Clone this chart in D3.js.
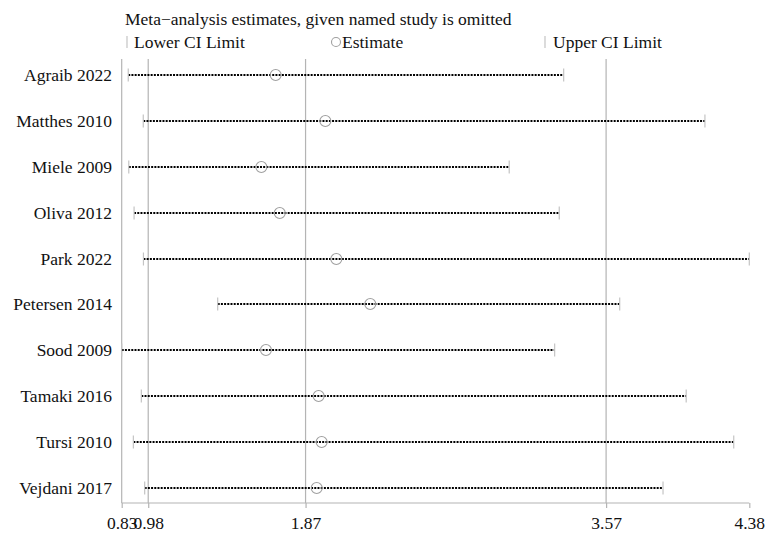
<!DOCTYPE html>
<html>
<head>
<meta charset="utf-8">
<script src="https://cdn.jsdelivr.net/npm/d3@7"></script>
<style>
  body { margin: 0; background: #fff; }
  svg text { font-family: "Liberation Serif", "Times New Roman", serif !important; }
</style>
</head>
<body>
<svg id="chart"></svg>
<script>
var studies = ['Agraib 2022', 'Matthes 2010', 'Miele 2009', 'Oliva 2012', 'Park 2022',
  'Petersen 2014', 'Sood 2009', 'Tamaki 2016', 'Tursi 2010', 'Vejdani 2017'];
var lowerCI = [0.867, 0.952, 0.870, 0.900, 0.953, 1.373, 0.830, 0.941, 0.896, 0.960];
var estimates = [1.701, 1.982, 1.620, 1.724, 2.044, 2.236, 1.646, 1.944, 1.961, 1.933];
var upperCI = [3.330, 4.129, 3.022, 3.305, 4.380, 3.647, 3.279, 4.023, 4.292, 3.892];
var tickValues = [0.83, 0.98, 1.87, 3.57, 4.38];
var refLines = [0.98, 1.87, 3.57];

var config = {
  svgWidth: 783,
  svgHeight: 533,
  left: 121.7,
  right: 749.3,
  top: 59,
  firstRow: 75,
  lastRow: 488,
  axisY: 503,
  fontSize: 17.5,
  fontFamily: '"Liberation Serif", "Times New Roman", serif'
};

var svg = d3.select('#chart')
  .attr('width', config.svgWidth)
  .attr('height', config.svgHeight)
  .attr('font-family', config.fontFamily);

var x = d3.scaleLinear()
  .domain([0.83, 4.38])
  .range([config.left, config.right]);

var yPoint = d3.scalePoint()
  .domain(studies)
  .range([config.firstRow, config.lastRow]);
function y(d) { return Math.round(yPoint(d)); }

// reference lines (overall estimate and CI)
svg.selectAll('.ref')
  .data(refLines)
  .enter().append('line')
  .attr('x1', function(d) { return x(d); })
  .attr('x2', function(d) { return x(d); })
  .attr('y1', config.top)
  .attr('y2', config.axisY)
  .attr('stroke', '#b4b4b4')
  .attr('stroke-width', 1.2);

// left axis line
svg.append('line')
  .attr('x1', config.left).attr('x2', config.left)
  .attr('y1', config.top).attr('y2', config.axisY)
  .attr('stroke', '#b4b4b4')
  .attr('stroke-width', 1.2);

// x axis
var xAxis = svg.append('g')
  .attr('transform', 'translate(0,' + config.axisY + ')')
  .call(d3.axisBottom(x).tickValues(tickValues).tickSize(5).tickFormat(d3.format('.2f')));
xAxis.attr('font-family', config.fontFamily);
xAxis.select('.domain').attr('stroke', '#b4b4b4').attr('stroke-width', 1.2)
  .attr('d', 'M' + config.left + ',0H' + config.right);
xAxis.selectAll('.tick line').attr('stroke', '#b4b4b4').attr('stroke-width', 1.2);
xAxis.selectAll('.tick text')
  .attr('fill', '#111')
  .attr('font-size', config.fontSize + 'px')
  .attr('font-family', config.fontFamily)
  .attr('dy', '1.0em');

// study labels
svg.selectAll('.label')
  .data(studies)
  .enter().append('text')
  .attr('x', 112)
  .attr('y', function(d) { return y(d); })
  .attr('dy', '0.35em')
  .attr('text-anchor', 'end')
  .attr('font-family', config.fontFamily)
  .attr('font-size', config.fontSize + 'px')
  .attr('fill', '#111')
  .text(function(d) { return d; });

// dotted CI lines
svg.selectAll('.ci')
  .data(studies)
  .enter().append('line')
  .attr('x1', function(d, i) { return x(lowerCI[i]); })
  .attr('x2', function(d, i) { return x(upperCI[i]); })
  .attr('y1', function(d) { return y(d); })
  .attr('y2', function(d) { return y(d); })
  .attr('stroke', '#000')
  .attr('stroke-width', 2)
  .attr('stroke-dasharray', '2,1.2');

// caps
function caps(values) {
  svg.selectAll(null)
    .data(studies)
    .enter().append('line')
    .attr('x1', function(d, i) { return x(values[i]); })
    .attr('x2', function(d, i) { return x(values[i]); })
    .attr('y1', function(d) { return y(d) - 6.5; })
    .attr('y2', function(d) { return y(d) + 6.5; })
    .attr('stroke', '#c4c4c4')
    .attr('stroke-width', 1.2);
}
caps(lowerCI);
caps(upperCI);

// estimates
svg.selectAll('.est')
  .data(studies)
  .enter().append('circle')
  .attr('cx', function(d, i) { return x(estimates[i]); })
  .attr('cy', function(d) { return y(d); })
  .attr('r', 5.5)
  .attr('fill', 'none')
  .attr('stroke', '#a0a0a0')
  .attr('stroke-width', 1.1);

// title and legend
svg.append('text')
  .attr('x', 125).attr('y', 25)
  .attr('font-family', config.fontFamily)
  .attr('font-size', config.fontSize + 'px')
  .attr('fill', '#111')
  .text('Meta\u2212analysis estimates, given named study is omitted');

var legendY = 42;
svg.append('line')
  .attr('x1', 127).attr('x2', 127)
  .attr('y1', legendY - 6).attr('y2', legendY + 6)
  .attr('stroke', '#c4c4c4').attr('stroke-width', 1.2);
svg.append('text')
  .attr('x', 134).attr('y', legendY).attr('dy', '0.35em')
  .attr('font-family', config.fontFamily)
  .attr('font-size', config.fontSize + 'px').attr('fill', '#111')
  .text('Lower CI Limit');
svg.append('circle')
  .attr('cx', 336).attr('cy', legendY).attr('r', 4.5)
  .attr('fill', 'none').attr('stroke', '#a0a0a0').attr('stroke-width', 1.1);
svg.append('text')
  .attr('x', 342).attr('y', legendY).attr('dy', '0.35em')
  .attr('font-family', config.fontFamily)
  .attr('font-size', config.fontSize + 'px').attr('fill', '#111')
  .text('Estimate');
svg.append('line')
  .attr('x1', 545).attr('x2', 545)
  .attr('y1', legendY - 6).attr('y2', legendY + 6)
  .attr('stroke', '#c4c4c4').attr('stroke-width', 1.2);
svg.append('text')
  .attr('x', 553).attr('y', legendY).attr('dy', '0.35em')
  .attr('font-family', config.fontFamily)
  .attr('font-size', config.fontSize + 'px').attr('fill', '#111')
  .text('Upper CI Limit');
</script>
</body>
</html>
